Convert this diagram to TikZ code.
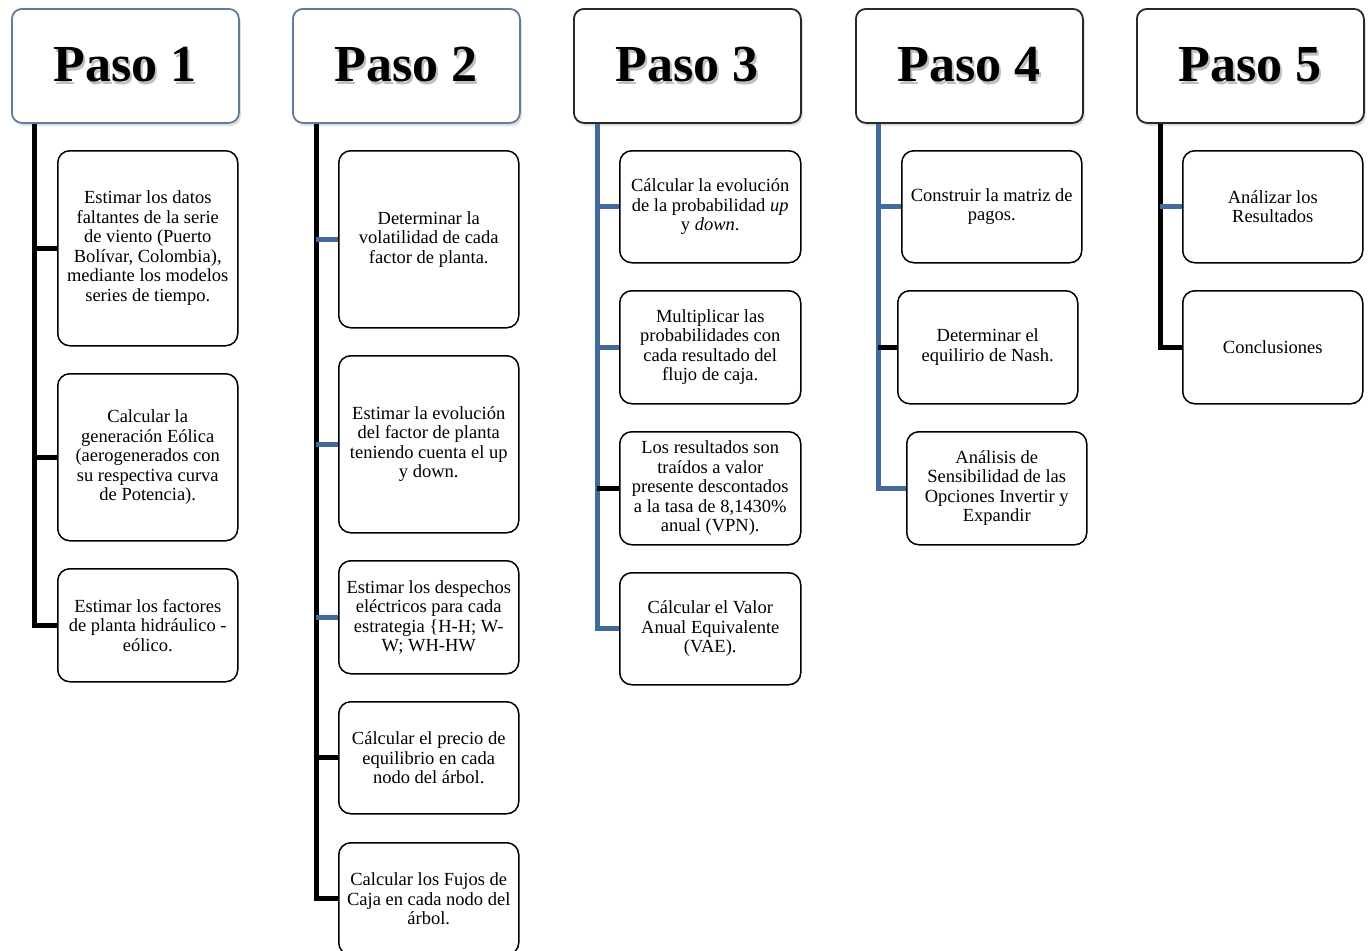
\documentclass[tikz,border=0pt]{standalone}
\usepackage{fontspec}
\setmainfont{Liberation Serif}
\usetikzlibrary{shadows}

\definecolor{linkblue}{RGB}{67,106,156}
\definecolor{hdrblue}{RGB}{96,124,156}
\definecolor{hdrdark}{RGB}{40,40,40}

% heading text with a soft grey shadow behind it
\newcommand\pasotxt[1]{%
  \makebox[0pt][l]{\hspace{2pt}\raisebox{-3pt}{\color{black!25}#1}}#1}

\tikzset{
  hdr/.style={draw, line width=1.8pt, rounded corners=10pt, fill=white,
    minimum width=227pt, minimum height=114pt, anchor=north west,
    inner sep=0pt,
    drop shadow={shadow xshift=2pt, shadow yshift=-3pt, opacity=0.25},
    font=\fontsize{52}{52}\selectfont\bfseries},
  hdrb/.style={hdr, draw=hdrblue},
  hdrk/.style={hdr, draw=hdrdark},
  stepbox/.style={draw, line width=1.5pt, rounded corners=12pt, fill=white,
    minimum width=180pt, anchor=north west, inner sep=2pt, align=center,
    font=\fontsize{18.5}{19.5}\selectfont},
  blk/.style={draw=black, line width=5pt},
  blu/.style={draw=linkblue, line width=5pt},
}

\begin{document}
\begin{tikzpicture}[x=1pt, y=-1pt]
\useasboundingbox (0,0) rectangle (1369,951);

% ---------- headings ----------
\node[hdrb] (h1) at (11,8)   {\pasotxt{Paso 1}};
\node[hdrb] (h2) at (292,8)  {\pasotxt{Paso 2}};
\node[hdrk] (h3) at (573,8)  {\pasotxt{Paso 3}};
\node[hdrk] (h4) at (855,8)  {\pasotxt{Paso 4}};
\node[hdrk] (h5) at (1136,8) {\pasotxt{Paso 5}};

% trunk start points under each heading
\coordinate (r1) at ([xshift=23pt]h1.south west);
\coordinate (r2) at ([xshift=24pt]h2.south west);
\coordinate (r3) at ([xshift=24pt]h3.south west);
\coordinate (r4) at ([xshift=23pt]h4.south west);
\coordinate (r5) at ([xshift=24pt]h5.south west);

% ---------- Paso 1 ----------
\node[stepbox, minimum height=195pt] (a1) at (57,150)
  {Estimar los datos\\ faltantes de la serie\\ de viento (Puerto\\ Bolívar, Colombia),\\ mediante los modelos\\ series de tiempo.};
\node[stepbox, minimum height=167pt] (a2) at (57,373)
  {Calcular la\\ generación Eólica\\ (aerogenerados con\\ su respectiva curva\\ de Potencia).};
\node[stepbox, minimum height=113pt] (a3) at (57,568)
  {Estimar los factores\\ de planta hidráulico -\\ eólico.};

% ---------- Paso 2 ----------
\node[stepbox, minimum height=177pt] (b1) at (338,150)
  {Determinar la\\ volatilidad de cada\\ factor de planta.};
\node[stepbox, minimum height=177pt] (b2) at (338,355)
  {Estimar la evolución\\ del factor de planta\\ teniendo cuenta el up\\ y down.};
\node[stepbox, minimum height=113pt] (b3) at (338,560)
  {Estimar los despechos\\ eléctricos para cada\\ estrategia \{H-H; W-\\ W; WH-HW};
\node[stepbox, minimum height=112pt] (b4) at (338,701)
  {Cálcular el precio de\\ equilibrio en cada\\ nodo del árbol.};
\node[stepbox, minimum height=112pt] (b5) at (338,842)
  {Calcular los Fujos de\\ Caja en cada nodo del\\ árbol.};

% ---------- Paso 3 ----------
\node[stepbox, minimum width=181pt, minimum height=112pt] (c1) at (619,150)
  {Cálcular la evolución\\ de la probabilidad \textit{up}\\ y \textit{down}.};
\node[stepbox, minimum width=181pt, minimum height=113pt] (c2) at (619,290)
  {Multiplicar las\\ probabilidades con\\ cada resultado del\\ flujo de caja.};
\node[stepbox, minimum width=181pt, minimum height=113pt] (c3) at (619,431)
  {Los resultados son\\ traídos a valor\\ presente descontados\\ a la tasa de 8,1430\%\\ anual (VPN).};
\node[stepbox, minimum width=181pt, minimum height=112pt] (c4) at (619,572)
  {Cálcular el Valor\\ Anual Equivalente\\ (VAE).};

% ---------- Paso 4 ----------
\node[stepbox, minimum height=112pt] (d1) at (901,150)
  {Construir la matriz de\\ pagos.};
\node[stepbox, minimum height=113pt] (d2) at (897,290)
  {Determinar el\\ equilirio de Nash.};
\node[stepbox, minimum height=113pt] (d3) at (906,431)
  {Análisis de\\ Sensibilidad de las\\ Opciones Invertir y\\ Expandir};

% ---------- Paso 5 ----------
\node[stepbox, minimum height=112pt] (e1) at (1182,150)
  {Análizar los\\ Resultados};
\node[stepbox, minimum height=113pt] (e2) at (1182,290)
  {Conclusiones};

% ---------- connectors ----------
% Paso 1
\draw[blk] (r1) |- (a3.west);
\draw[blk] (a1.west) -- (a1.west -| r1);
\draw[blk] (a2.west) -- (a2.west -| r1);
% Paso 2
\draw[blk] (r2) |- (b5.west);
\draw[blu] (b1.west) -- (b1.west -| r2);
\draw[blu] (b2.west) -- (b2.west -| r2);
\draw[blu] (b3.west) -- (b3.west -| r2);
\draw[blk] (b4.west) -- (b4.west -| r2);
% Paso 3
\draw[blu] (r3) |- (c4.west);
\draw[blu] (c1.west) -- (c1.west -| r3);
\draw[blu] (c2.west) -- (c2.west -| r3);
\draw[blk] (c3.west) -- (c3.west -| r3);
% Paso 4
\draw[blu] (r4) |- (d3.west);
\draw[blu] (d1.west) -- (d1.west -| r4);
\draw[blk] (d2.west) -- (d2.west -| r4);
% Paso 5
\draw[blk] (r5) |- (e2.west);
\draw[blu] (e1.west) -- (e1.west -| r5);
\end{tikzpicture}
\end{document}
